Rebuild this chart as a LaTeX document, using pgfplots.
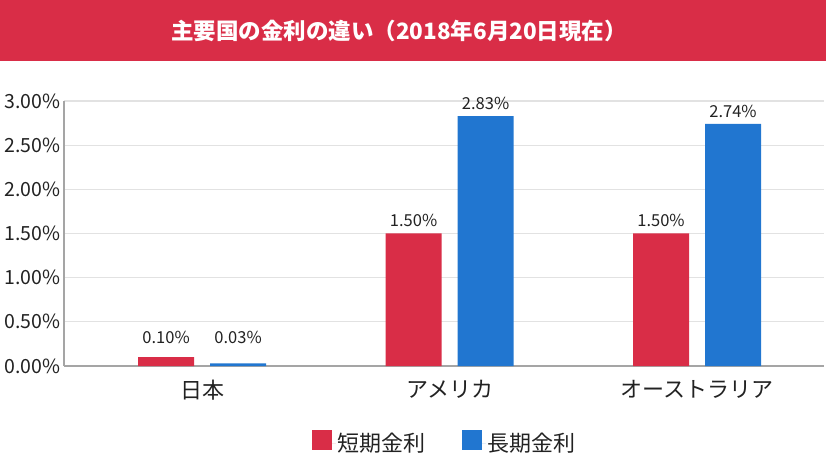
\documentclass[border=0pt]{standalone}
\usepackage{fontspec}
\setmainfont{Noto Sans CJK JP}
\usepackage{pgfplots}
\pgfplotsset{compat=1.18}
\definecolor{cRed}{RGB}{217,45,71}
\definecolor{cBlue}{RGB}{33,118,208}
\definecolor{cGrid}{RGB}{226,226,226}
\definecolor{cAxis}{RGB}{165,165,165}
\definecolor{cText}{RGB}{34,34,34}

\begin{document}
\begin{tikzpicture}[x=1pt,y=1pt]
% page = 826 x 456 (1pt per pixel)
\path (0,0) rectangle (826,456);
% title banner
\fill[cRed] (0,395) rectangle (826,456);
\node[text=white, font=\fontsize{22.5}{26}\selectfont\bfseries] at (399,425.5)
  {主要国の金利の違い（2018年6月20日現在）};

\begin{axis}[
    at={(64pt,90pt)}, anchor=south west,
    scale only axis, width=760pt, height=265pt,
    xmin=-0.558, xmax=2.513, ymin=0, ymax=3,
    ybar=16pt, bar width=56pt,
    legend image code/.code={%
      \path (0pt,0pt) -- (24pt,0pt);
      \draw[#1,/tikz/.cd,draw=none] (0pt,-7pt) rectangle (20pt,13pt);},
    axis x line*=bottom, axis y line*=left,
    axis line style={-, cAxis, line width=1.5pt},
    ymajorgrids, grid style={cGrid, line width=1.2pt},
    major tick length=0pt, tick style={draw=none},
    xtick={0,1,2},
    xticklabels={日本,アメリカ,オーストラリア},
    xticklabel style={font=\fontsize{22}{24}\selectfont, text=cText, yshift=-11pt},
    ytick={0,0.5,1,1.5,2,2.5,3},
    yticklabels={0.00\%,0.50\%,1.00\%,1.50\%,2.00\%,2.50\%,3.00\%},
    yticklabel style={font=\fontsize{19.5}{21}\selectfont, text=cText},
    point meta=explicit symbolic,
    nodes near coords,
    % small bars: labels kept at a common minimum height
    visualization depends on={y \as \rawy},
    every node near coord/.append style={font=\fontsize{16.5}{18}\selectfont,
      text=cText, yshift={3pt+max(0,16-\rawy*88.33)*1pt}},
    legend style={at={(0.501,-0.29)}, anchor=center, draw=none, fill=none,
      legend columns=2, font=\fontsize{22}{24}\selectfont, text=cText,
      /tikz/every even column/.append style={column sep=34pt}},
    clip=false,
]
\addplot[fill=cRed, draw=none]
  coordinates {(0,0.10) [0.10\%] (1,1.50) [1.50\%] (2,1.50) [1.50\%]};
\addlegendentry{短期金利}
\addplot[fill=cBlue, draw=none]
  coordinates {(0,0.03) [0.03\%] (1,2.83) [2.83\%] (2,2.74) [2.74\%]};
\addlegendentry{長期金利}
\end{axis}
\end{tikzpicture}
\end{document}
